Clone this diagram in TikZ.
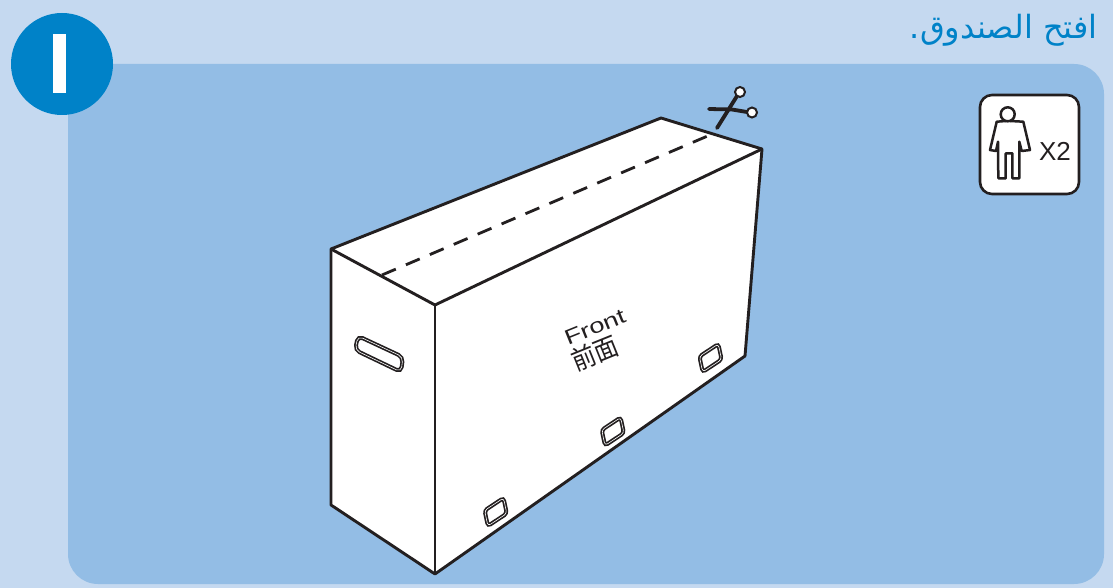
\documentclass[tikz,border=0pt]{standalone}
\usepackage{fontspec}
\setmainfont{Liberation Sans}
\newfontfamily\arabicfont[Script=Arabic]{DejaVu Sans}
\newfontfamily\cjk{Noto Sans CJK SC}
\TeXXeTstate=1
\definecolor{pagebg}{HTML}{C5D9F0}
\definecolor{panelbg}{HTML}{93BDE5}
\definecolor{stepblue}{HTML}{0082C8}
\definecolor{inkline}{HTML}{231F20}
\begin{document}
\begin{tikzpicture}[x=1pt, y=-1pt,
    boxline/.style={draw=inkline, line width=2.9pt, line join=round},
    grip/.style={draw=inkline, line width=1.7pt, double=white, double distance=0.6pt, rounded corners=3pt},
    cut/.style={draw=inkline, line width=3.8pt, line cap=round},
    ring/.style={draw=inkline, fill=white, line width=2pt},
    figline/.style={draw=inkline, line width=2.5pt, line join=round}]
    \useasboundingbox (0,0) rectangle (1113,588);
    % background panels and step badge
    \fill[pagebg] (0,0) rectangle (1113,588);
    \fill[panelbg, rounded corners=30pt] (68,64) rectangle (1104,584);
    \fill[stepblue] (62,64) circle (51);
    \fill[white] (53,34) rectangle (66,93);
    \node[anchor=east, inner sep=0pt, text=stepblue, font=\arabicfont\fontsize{32}{36}\selectfont] (title) at (1098,30) {\beginR افتح الصندوق.\endR};
    % carton: top, side and front faces
    \path[boxline, fill=white] (331,249) -- (661,118) -- (762,149) -- (745,356) -- (435,574) -- (331,505) -- cycle;
    \draw[boxline] (331,249) -- (435,305) -- (762,149);
    \draw[boxline] (435,305) -- (435,574);
    \draw[inkline, line width=2.8pt, dash pattern=on 15pt off 11pt] (382,275) -- (710,135);
    % handle holes
    \draw[grip, rounded corners=5pt] (358,336) -- (403,357) -- (401,372) -- (355,350) -- cycle;
    \foreach \gx/\gy in {495.7/512, 612.8/431.5, 710.5/358}
      \draw[grip] (\gx+7.8,\gy-14) -- (\gx+11.1,\gy+1.5) -- (\gx-7.8,\gy+14) -- (\gx-11.1,\gy-1.5) -- cycle;
    % printed label
    \node[rotate=22, xscale=1.3, inner sep=0pt, text=inkline, font=\fontsize{21}{24}\selectfont] (front) at (595,327) {Front};
    \node[rotate=22, yscale=1.1, inner sep=0pt, text=inkline, font=\cjk\fontsize{24}{28}\selectfont] (qianmian) at (595,353) {前面};
    % scissors
    \draw[cut] (709,109) -- (732,109.5) -- (747,112);
    \draw[cut] (717,128) -- (737,96);
    \draw[ring] (740,92) circle (5);
    \draw[ring] (752,112.5) circle (5);
    % two person icon
    \draw[draw=inkline, fill=white, line width=2.6pt, rounded corners=12pt] (980,95) rectangle (1079,194);
    \draw[figline] (1007.7,114.3) circle (7);
    \draw[figline] (1006,121) -- (996.7,121.7) -- (990,150) -- (996,151) -- (998,141.7) -- (998.3,178.3) -- (1005.7,178.3) -- (1005.7,153.3) -- (1012.3,153.3) -- (1012.3,178.3) -- (1019.3,178.3) -- (1019.3,141.7) -- (1021.7,151) -- (1030,150) -- (1023.3,121.7) -- (1010,121);
    \node[inner sep=0pt, text=inkline, font=\fontsize{26}{30}\selectfont] (count) at (1055,151) {X2};
  \end{tikzpicture}
\end{document}
